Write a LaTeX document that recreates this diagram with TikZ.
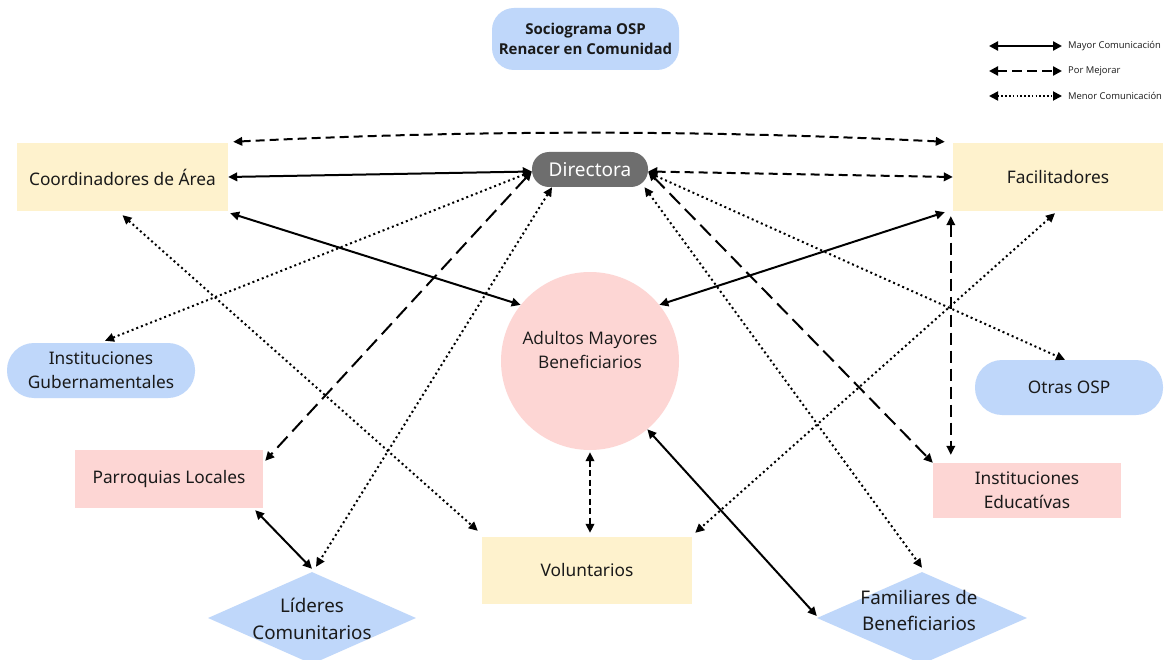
\documentclass[tikz,border=0pt]{standalone}
\usepackage{fontspec}
\setmainfont{Noto Sans}
\newfontfamily\opensans{Open Sans}
\usetikzlibrary{arrows.meta,shapes.geometric,calc}
\definecolor{cyellow}{HTML}{FEF2CD}
\definecolor{cpink}{HTML}{FDD6D4}
\definecolor{cblue}{HTML}{BFD7FA}
\definecolor{cgray}{HTML}{6E6E6E}
\definecolor{ctext}{HTML}{1A1A1A}
\begin{document}
\begin{tikzpicture}[x=1pt,y=-1pt,
  every node/.style={text=ctext, align=center, inner sep=0pt, font=\fontsize{17.3}{24}\selectfont},
  ybox/.style={rectangle, fill=cyellow},
  pbox/.style={rectangle, fill=cpink},
  bpill/.style={rectangle, fill=cblue, rounded corners=27pt},
  dmd/.style={diamond, fill=cblue},
  >={Triangle[length=9pt,width=8.5pt]},
  solidc/.style={<->, line width=2pt},
  dashc/.style={<->, line width=2pt, dash pattern=on 9pt off 5pt},
  shortdash/.style={<->, line width=2pt, dash pattern=on 6pt off 3.5pt},
  vdash/.style={<->, line width=2pt, dash pattern=on 12pt off 6pt},
  longdash/.style={<->, line width=2pt, dash pattern=on 15pt off 7pt},
  dotc/.style={<->, line width=2pt, dash pattern=on 2pt off 3pt},
  legsolid/.style={{Triangle[length=9pt,width=9pt]}-{Triangle[length=9pt,width=9pt]}, line width=2.2pt},
  legdash/.style={legsolid, dash pattern=on 10pt off 5pt},
  legdot/.style={legsolid, line width=1.8pt, dash pattern=on 1.6pt off 2.2pt},
  legtext/.style={anchor=west, font=\opensans\fontsize{9.4}{11}\selectfont}
]
\useasboundingbox (0,0) rectangle (1169,660);
\fill[white] (0,0) rectangle (1169,660);

% title
\node[fill=cblue, rounded corners=22pt, minimum width=187pt, minimum height=62pt,
      font=\opensans\bfseries\fontsize{15}{20}\selectfont] (title) at (585.5,39) {Sociograma OSP\\Renacer en Comunidad};

% nodes
\node[ybox, minimum width=211pt, minimum height=68pt] (coord) at (122.5,177) {Coordinadores de Área};
\node[ybox, minimum width=210pt, minimum height=68pt] (fac) at (1058,177) {Facilitadores};
\node[fill=cgray, rounded corners=17pt, minimum width=116pt, minimum height=35pt, text=white,
      font=\fontsize{19}{22}\selectfont] (dir) at (590,169.5) {Directora};
\node[bpill, minimum width=188pt, minimum height=55pt] (gub) at (101,370.5) {Instituciones\\Gubernamentales};
\node[bpill, minimum width=188pt, minimum height=55pt] (otras) at (1069,387.5) {Otras OSP};
\node[circle, fill=cpink, minimum size=178pt] (adultos) at (590,361) {};
\node[font=\opensans\fontsize{17.3}{24}\selectfont] (adultostxt) at (590,350) {Adultos Mayores\\Beneficiarios};
\node[pbox, minimum width=188pt, minimum height=58pt] (parr) at (169,479) {Parroquias Locales};
\node[pbox, minimum width=188pt, minimum height=55pt] (edu) at (1027,490.5) {Instituciones\\Educatívas};
\node[ybox, minimum width=210pt, minimum height=67pt] (vol) at (587,570.5) {Voluntarios};
\node[dmd, minimum width=208pt, minimum height=92pt] (lid) at (312,618) {};
\node[font=\fontsize{18.8}{27}\selectfont] (lidtxt) at (312,619) {Líderes\\Comunitarios};
\node[dmd, minimum width=210pt, minimum height=92pt] (fam) at (922,618) {};
\node[font=\fontsize{18.8}{26}\selectfont] (famtxt) at (919,610) {Familiares de\\Beneficiarios};

% connectors
\draw[dashc] ($(coord.north east)+(5,-1)$) .. controls +(240,-12) and +(-240,-12) .. ($(fac.north west)+(-8,-1)$);
\draw[solidc] ($(dir.west)+(0,2)$) -- (coord.east);
\draw[dashc] ($(dir.east)+(0,2)$) -- (fac.west);
\draw[solidc] ($(coord.south east)+(2,2)$) -- (adultos.141);
\draw[solidc] ($(fac.south west)+(-8,1)$) -- (adultos.39);
\draw[dotc] ($(dir.west)+(0,2)$) -- ($(gub.north)+(4,-2)$);
\draw[longdash] ($(dir.west)+(0,2)$) -- ($(parr.north east)+(2,11)$);
\draw[dotc] (dir.205) -- ($(lid.north)+(4,-5)$);
\draw[solidc] ($(parr.south east)+(-8,2)$) -- ($(lid.north)+(0,-3)$);
\draw[dotc] ($(coord.south)+(0,4)$) -- ($(vol.north west)+(-4,-6)$);
\draw[dotc] ($(fac.south)+(-3,2)$) -- ($(vol.north east)+(3,-4)$);
\draw[shortdash] ($(adultos.south)+(0,2)$) -- ($(adultos.south |- vol.north)+(0,-4)$);
\draw[solidc] (adultos.310) -- ($(fam.west)+(0,-2)$);
\draw[dotc] (dir.-18) -- ($(fam.north)+(0,-4)$);
\draw[longdash] ($(dir.east)+(0,2)$) -- (edu.north west);
\draw[dotc] ($(dir.east)+(0,3)$) -- ($(otras.north)+(-4,0)$);
\draw[vdash] ($(fac.south west)+(-2,5)$) -- ($(edu.north west)+(18,-8)$);

% legend
\coordinate (l1a) at (989,46); \coordinate (l1b) at (1062,46);
\coordinate (l2a) at (989,71); \coordinate (l2b) at (1062,71);
\coordinate (l3a) at (989,96); \coordinate (l3b) at (1062,96);
\draw[legsolid] (l1a) -- (l1b);
\draw[legdash] (l2a) -- (l2b);
\draw[legdot] (l3a) -- (l3b);
\node[legtext] (l1t) at (1068,46) {Mayor Comunicación};
\node[legtext] (l2t) at (1068,71) {Por Mejorar};
\node[legtext] (l3t) at (1068,96) {Menor Comunicación};
\end{tikzpicture}
\end{document}
